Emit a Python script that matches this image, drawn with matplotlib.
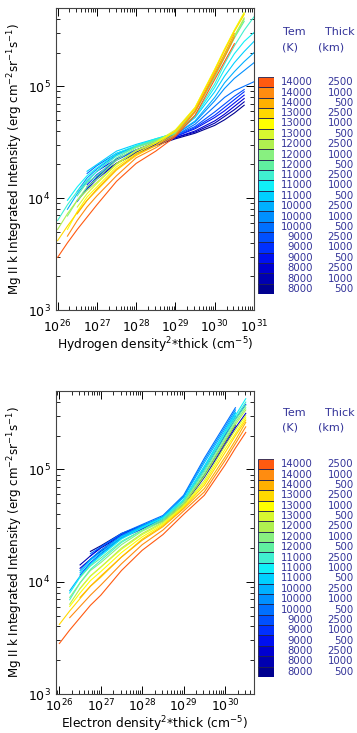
import numpy as np
import matplotlib
matplotlib.use('Agg')
import matplotlib.pyplot as plt
from matplotlib.patches import Rectangle
from matplotlib.ticker import LogLocator, NullFormatter

# model grid: temperature (K) and slab thickness (km)
TEMP = [8000] * 3 + [9000] * 3 + [10000] * 3 + [11000] * 3 + [12000] * 3 + [13000] * 3 + [14000] * 3
THICK = [500, 1000, 2500] * 7

# log10 of density^2*thick where the intensities were read
LOG_X = [26.0, 26.25, 26.5, 26.75, 27.0, 27.5, 28.0, 28.5, 29.0, 29.5, 30.0, 30.25, 30.5, 30.75, 31.0]
N = None

# log10 Mg II k intensity vs hydrogen density^2*thick, one row per model (8000/500 first)
H_LOGI = [
    [N, N, N, N, 4.19, 4.31, 4.40, 4.47, 4.53, 4.58, 4.65, 4.70, 4.76, 4.83, N],
    [N, N, N, 4.10, 4.18, 4.31, 4.41, 4.48, 4.54, 4.59, 4.67, 4.73, 4.79, 4.86, N],
    [N, N, 3.98, 4.08, 4.17, 4.31, 4.41, 4.48, 4.54, 4.60, 4.69, 4.75, 4.82, 4.89, N],
    [N, N, N, N, 4.24, 4.35, 4.43, 4.49, 4.55, 4.62, 4.72, 4.78, 4.85, 4.92, N],
    [N, N, N, 4.12, 4.21, 4.34, 4.43, 4.50, 4.55, 4.63, 4.74, 4.81, 4.88, 4.95, N],
    [N, N, 3.97, 4.09, 4.19, 4.34, 4.43, 4.50, 4.56, 4.64, 4.77, 4.84, 4.91, 4.97, N],
    [N, N, N, 4.22, 4.29, 4.40, 4.46, 4.51, 4.56, 4.66, 4.82, 4.90, 4.96, 5.00, 5.04],
    [N, N, 4.06, 4.18, 4.26, 4.39, 4.46, 4.51, 4.57, 4.68, 4.87, 4.98, 5.07, 5.14, 5.21],
    [N, 3.90, 4.04, 4.15, 4.24, 4.38, 4.46, 4.52, 4.57, 4.69, 4.90, 5.03, 5.13, 5.22, 5.30],
    [N, N, N, 4.24, 4.30, 4.42, 4.48, 4.53, 4.58, 4.72, 4.95, 5.09, 5.21, 5.31, 5.40],
    [N, 3.98, 4.10, 4.20, 4.27, 4.40, 4.47, 4.53, 4.58, 4.73, 4.99, 5.15, 5.29, 5.40, 5.48],
    [3.80, 3.94, 4.06, 4.16, 4.24, 4.38, 4.46, 4.52, 4.58, 4.74, 5.02, 5.20, 5.36, 5.50, 5.62],
    [N, N, 4.02, 4.14, 4.20, 4.36, 4.46, 4.52, 4.59, 4.77, 5.08, 5.26, 5.43, 5.58, N],
    [N, 3.84, 3.98, 4.10, 4.17, 4.34, 4.45, 4.51, 4.59, 4.78, 5.09, 5.27, 5.44, 5.60, N],
    [3.72, 3.86, 3.98, 4.07, 4.14, 4.31, 4.43, 4.50, 4.59, 4.78, 5.10, 5.28, 5.45, 5.61, N],
    [N, N, 3.92, 4.04, 4.13, 4.30, 4.42, 4.50, 4.61, 4.81, 5.15, 5.33, 5.50, 5.66, N],
    [N, 3.72, 3.88, 4.01, 4.10, 4.28, 4.40, 4.49, 4.60, 4.81, 5.15, 5.33, 5.50, 5.65, N],
    [3.62, 3.75, 3.87, 3.98, 4.07, 4.25, 4.38, 4.47, 4.60, 4.80, 5.14, 5.32, 5.49, 5.64, N],
    [N, N, 3.86, 3.98, 4.08, 4.26, 4.39, 4.47, 4.57, 4.78, 5.12, 5.29, 5.47, N, N],
    [N, 3.66, 3.80, 3.92, 4.02, 4.20, 4.36, 4.45, 4.56, 4.77, 5.10, 5.26, 5.44, N, N],
    [3.47, 3.60, 3.72, 3.83, 3.94, 4.15, 4.31, 4.42, 4.55, 4.74, 5.06, 5.22, 5.38, N, N],
]

# log10 Mg II k intensity vs electron density^2*thick
E_LOGI = [
    [N, N, N, 4.27, 4.32, 4.43, 4.50, 4.56, 4.69, 4.95, 5.25, 5.40, N, N, N],
    [N, N, 4.15, 4.23, 4.30, 4.41, 4.48, 4.55, 4.69, 4.94, 5.24, 5.39, N, N, N],
    [N, N, 4.12, 4.20, 4.27, 4.39, 4.47, 4.54, 4.68, 4.93, 5.22, 5.37, 5.50, N, N],
    [N, N, N, 4.23, 4.31, 4.42, 4.50, 4.57, 4.72, 5.02, 5.32, 5.48, N, N, N],
    [N, N, N, 4.20, 4.28, 4.41, 4.49, 4.56, 4.72, 5.01, 5.31, 5.47, N, N, N],
    [N, N, 4.06, 4.17, 4.25, 4.39, 4.48, 4.56, 4.72, 5.00, 5.30, 5.45, 5.58, N, N],
    [N, N, N, 4.25, 4.31, 4.43, 4.51, 4.59, 4.77, 5.10, 5.40, 5.55, N, N, N],
    [N, N, 4.10, 4.20, 4.28, 4.41, 4.50, 4.58, 4.76, 5.08, 5.38, 5.53, N, N, N],
    [N, 3.92, 4.05, 4.16, 4.24, 4.39, 4.49, 4.58, 4.75, 5.06, 5.36, 5.51, N, N, N],
    [N, N, 4.08, 4.19, 4.26, 4.40, 4.49, 4.57, 4.73, 5.03, 5.34, 5.50, N, N, N],
    [N, 3.90, 4.04, 4.15, 4.23, 4.38, 4.48, 4.57, 4.73, 5.02, 5.33, 5.48, 5.63, N, N],
    [N, 3.84, 3.99, 4.11, 4.19, 4.35, 4.46, 4.56, 4.72, 5.00, 5.32, 5.46, 5.60, N, N],
    [N, N, 4.04, 4.14, 4.21, 4.36, 4.46, 4.55, 4.71, 4.98, 5.29, 5.44, 5.57, N, N],
    [N, 3.86, 3.99, 4.10, 4.17, 4.33, 4.45, 4.54, 4.70, 4.96, 5.27, 5.42, 5.55, N, N],
    [N, 3.80, 3.94, 4.05, 4.13, 4.30, 4.43, 4.53, 4.69, 4.94, 5.25, 5.40, 5.53, N, N],
    [N, N, 3.94, 4.05, 4.13, 4.29, 4.42, 4.52, 4.68, 4.90, 5.21, 5.35, 5.48, N, N],
    [N, 3.78, 3.90, 4.01, 4.09, 4.26, 4.40, 4.51, 4.67, 4.88, 5.18, 5.32, 5.46, N, N],
    [3.62, 3.74, 3.85, 3.96, 4.04, 4.22, 4.38, 4.50, 4.66, 4.86, 5.15, 5.30, 5.44, N, N],
    [N, N, 3.86, 3.96, 4.05, 4.22, 4.37, 4.49, 4.65, 4.83, 5.11, 5.26, 5.42, N, N],
    [N, 3.68, 3.78, 3.88, 3.97, 4.16, 4.33, 4.46, 4.63, 4.80, 5.08, 5.23, 5.38, N, N],
    [3.45, 3.57, 3.68, 3.79, 3.88, 4.10, 4.28, 4.42, 4.60, 4.77, 5.04, 5.19, 5.33, N, N],
]

COLORS = ['#000090', '#0000b0', '#0000d0', '#0010f0', '#0030ff', '#0050ff',
          '#0070ff', '#0090ff', '#00b0ff', '#00d0ff', '#10f0f8', '#40f0d0',
          '#60f0a0', '#88f080', '#b0f050', '#d8f830', '#ffff00', '#ffd800',
          '#ffb000', '#ff8c10', '#ff5a10']
TXT = '#333399'

W, H = 357.0, 733.0
fig = plt.figure(figsize=(W / 100, H / 100), dpi=100)


def panel(rect, logi, xlim, xlabel, leg_rect, head_y, xpad, lpad):
    ax = fig.add_axes(rect)
    for row, c in zip(logi, COLORS):
        pts = [(10 ** x, 10 ** y) for x, y in zip(LOG_X, row) if y is not None]
        xs, ys = zip(*pts)
        ax.plot(xs, ys, color=c, lw=0.8)
    ax.set_xscale('log')
    ax.set_yscale('log')
    ax.set_xlim(*xlim)
    ax.set_ylim(1e3, 5e5)
    ax.xaxis.set_major_locator(LogLocator(base=10, numticks=10))
    ax.xaxis.set_minor_locator(LogLocator(base=10, subs=np.arange(2, 10), numticks=20))
    ax.xaxis.set_minor_formatter(NullFormatter())
    ax.yaxis.set_minor_formatter(NullFormatter())
    ax.tick_params(which='both', direction='in', top=True, right=True, labelsize=9)
    ax.tick_params(which='major', length=6, width=0.7)
    ax.tick_params(which='minor', length=3, width=0.6)
    ax.tick_params(axis='x', which='major', pad=xpad)
    ax.tick_params(axis='y', which='major', pad=4)
    for s in ax.spines.values():
        s.set_linewidth(0.8)
        s.set_color('#444444')
    ax.set_xlabel(xlabel, fontsize=8.8, labelpad=lpad)
    ax.set_ylabel(r'Mg II k Integrated Intensity (erg cm$^{-2}$sr$^{-1}$s$^{-1}$)', fontsize=8.6, labelpad=2)

    # colour key with model labels
    lg = fig.add_axes(leg_rect)
    lg.set_xlim(0, 1)
    lg.set_ylim(0, len(COLORS))
    lg.axis('off')
    for i, c in enumerate(COLORS):
        lg.add_patch(Rectangle((0, i), 1, 1, facecolor=c, edgecolor='#202050', lw=0.6))
    y0 = leg_rect[1]
    hgt = leg_rect[3]
    for i, (t, d) in enumerate(zip(TEMP, THICK)):
        yy = y0 + hgt * (i + 0.5) / len(COLORS)
        fig.text(313 / W, yy, str(t), ha='right', va='center', fontsize=7.3, color=TXT)
        fig.text(353 / W, yy, str(d), ha='right', va='center', fontsize=7.3, color=TXT)
    fig.text(283 / W, 1 - head_y / H, 'Tem', ha='left', va='center', fontsize=8, color=TXT)
    fig.text(355 / W, 1 - head_y / H, 'Thick', ha='right', va='center', fontsize=8, color=TXT)
    fig.text(282 / W, 1 - (head_y + 15) / H, '(K)', ha='left', va='center', fontsize=8, color=TXT)
    fig.text(318 / W, 1 - (head_y + 15) / H, '(km)', ha='left', va='center', fontsize=8, color=TXT)
    return ax


panel([56 / W, 1 - 310 / H, 198 / W, 302 / H], H_LOGI, (9.1e25, 1e31),
      r'Hydrogen density$^2$*thick (cm$^{-5}$)',
      [258 / W, 1 - 294 / H, 16 / W, 217 / H], 32, 6, 0.5)
panel([56 / W, 1 - 694 / H, 198 / W, 303 / H], E_LOGI, (8.3e25, 5e30),
      r'Electron density$^2$*thick (cm$^{-5}$)',
      [258 / W, 1 - 677 / H, 16 / W, 218 / H], 413, 3, 0)

plt.savefig('out.png', dpi=100)
